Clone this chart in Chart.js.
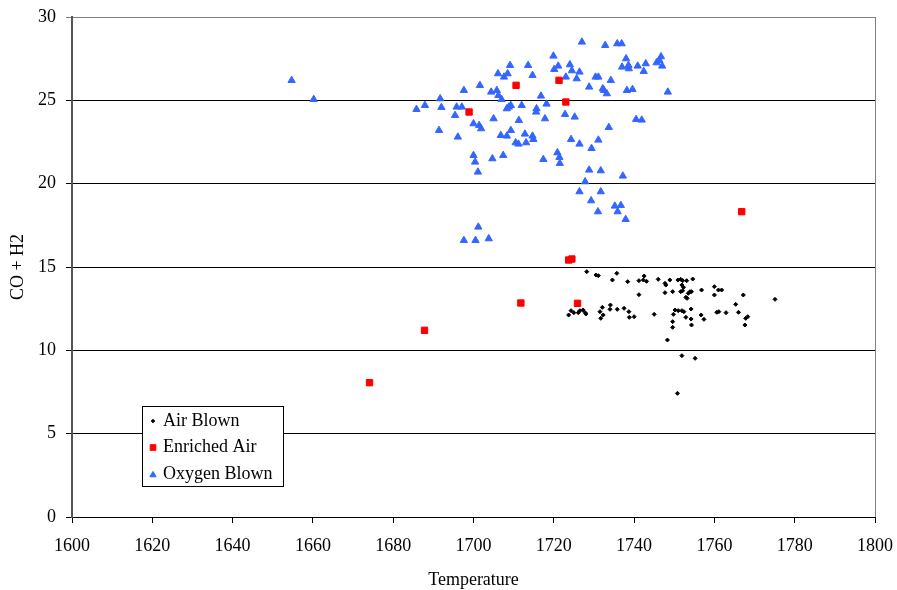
<!DOCTYPE html>
<html>
<head>
<meta charset="utf-8">
<title>CO + H2 vs Temperature</title>
<script src="https://cdn.jsdelivr.net/npm/chart.js@4.4.1/dist/chart.umd.min.js"></script>
<style>
  html, body { margin: 0; padding: 0; background: #ffffff; }
  #wrap { width: 897px; height: 590px; }
</style>
</head>
<body>
<div id="wrap"><canvas id="c" width="897" height="590"></canvas></div>
<script>
// Temperature axis range and CO + H2 axis range
const xTicks = { min: 1600, max: 1800, step: 20 };
const yTicks = { min: 0, max: 30, step: 5 };

const seriesNames = ['Air Blown', 'Enriched Air', 'Oxygen Blown'];

// Air blown gasifier runs
const airTemp = [
  1728.2, 1730.5, 1731.1, 1735.7, 1734.6, 1738.4, 1741.2, 1742.5, 1742.3, 1743.1,
  1746.0, 1741.2, 1723.7, 1724.3, 1725.0, 1726.1, 1726.5, 1727.3, 1727.8, 1728.0,
  1731.5, 1732.1, 1731.7, 1732.3, 1734.1, 1734.0, 1735.8, 1737.5, 1738.7, 1738.8,
  1740.0, 1745.0, 1747.7, 1747.9, 1748.9, 1750.9, 1751.6, 1752.1, 1753.1, 1754.6,
  1751.9, 1752.3, 1751.6, 1752.1, 1749.6, 1747.7, 1753.9, 1754.3, 1753.5, 1752.9,
  1753.2, 1756.8, 1760.0, 1761.0, 1761.8, 1760.0, 1767.2, 1775.1, 1765.3, 1750.2,
  1751.0, 1751.9, 1752.4, 1749.8, 1754.2, 1752.9, 1754.2, 1749.6, 1749.6, 1754.3,
  1756.7, 1757.4, 1760.6, 1761.1, 1762.9, 1766.0, 1767.8, 1768.3, 1767.6, 1748.3,
  1751.9, 1755.2, 1750.8
];
const airGas = [
  14.72, 14.52, 14.48, 14.62, 14.22, 14.12, 14.18, 14.46, 14.22, 14.14,
  14.26, 13.34, 12.12, 12.38, 12.26, 12.26, 12.38, 12.42, 12.26, 12.18,
  12.32, 12.58, 11.92, 12.12, 12.72, 12.46, 12.46, 12.52, 12.32, 11.98,
  12.02, 12.16, 14.02, 13.92, 14.22, 14.22, 14.26, 14.18, 14.18, 14.28,
  13.92, 13.78, 13.52, 13.58, 13.52, 13.46, 13.52, 13.52, 13.42, 13.18,
  13.12, 13.62, 13.82, 13.62, 13.62, 13.32, 13.32, 13.06, 12.76, 12.42,
  12.38, 12.38, 12.32, 12.16, 12.48, 11.98, 11.88, 11.72, 11.38, 11.52,
  12.12, 11.86, 12.28, 12.32, 12.26, 12.28, 11.92, 12.02, 11.52, 10.62,
  9.68, 9.52, 7.42
];

// Enriched air runs
const enrichedTemp = [1674.1, 1687.8, 1698.9, 1710.6, 1711.8, 1721.3, 1723.0, 1723.7, 1724.5, 1725.9, 1766.8];
const enrichedGas  = [8.06, 11.2, 24.3, 25.9, 12.84, 26.2, 24.9, 15.42, 15.48, 12.82, 18.32];

// Oxygen blown runs
const oxygenTemp = [
  1654.7, 1660.2, 1685.8, 1687.9, 1691.7, 1692.0, 1697.6, 1701.6, 1695.4, 1695.8,
  1697.1, 1691.4, 1696.1, 1700.0, 1701.4, 1701.9, 1705.0, 1700.0, 1700.4, 1701.1,
  1704.7, 1707.4, 1706.8, 1708.3, 1709.3, 1711.3, 1710.5, 1711.2, 1713.1, 1712.8,
  1708.8, 1708.3, 1709.3, 1712.0, 1707.0, 1704.4, 1705.8, 1706.2, 1706.1, 1707.6,
  1708.5, 1709.1, 1713.6, 1701.2, 1697.6, 1700.5, 1703.8, 1727.0, 1732.8, 1735.8,
  1736.9, 1719.9, 1714.7, 1720.1, 1721.1, 1723.0, 1724.0, 1724.5, 1726.4, 1725.7,
  1730.4, 1731.1, 1728.8, 1734.2, 1732.2, 1732.5, 1733.2, 1738.0, 1737.0, 1738.6,
  1738.7, 1738.2, 1739.6, 1740.9, 1742.9, 1742.4, 1745.6, 1746.7, 1747.0, 1746.3,
  1748.4, 1715.7, 1715.6, 1716.8, 1718.2, 1717.8, 1722.8, 1725.2, 1714.7, 1714.9,
  1717.4, 1720.9, 1721.4, 1721.5, 1724.3, 1726.4, 1729.4, 1731.1, 1733.7, 1740.5,
  1741.9, 1728.8, 1731.7, 1737.2, 1727.8, 1726.4, 1731.7, 1729.3, 1731.0, 1735.2,
  1736.7, 1735.9, 1737.9
];
const oxygenGas = [
  26.2, 25.06, 24.46, 24.7, 25.1, 24.58, 25.6, 25.9, 24.1, 24.6,
  24.6, 23.2, 22.8, 23.6, 23.5, 23.3, 23.9, 21.7, 21.3, 20.7,
  21.5, 21.7, 22.9, 22.86, 23.2, 23.8, 22.46, 22.38, 22.46, 22.98,
  24.6, 24.5, 24.7, 24.7, 25.06, 25.5, 25.6, 25.3, 26.6, 26.4,
  26.6, 27.1, 27.1, 17.4, 16.6, 16.6, 16.7, 28.5, 28.3, 28.4,
  28.4, 27.66, 26.5, 26.86, 27.06, 26.4, 27.14, 26.78, 26.7, 26.3,
  26.4, 26.4, 25.8, 26.2, 25.7, 25.6, 25.4, 27.5, 27.0, 27.1,
  26.9, 25.6, 25.66, 27.06, 27.2, 26.74, 27.26, 27.62, 27.06, 27.4,
  25.5, 24.5, 24.3, 25.26, 24.78, 23.9, 24.16, 24.0, 22.86, 22.66,
  21.46, 21.86, 21.58, 21.22, 22.66, 22.38, 22.12, 22.62, 23.38, 23.86,
  23.82, 20.82, 20.78, 20.46, 20.12, 19.52, 19.52, 18.98, 18.32, 18.66,
  18.7, 18.32, 17.86
];

function points(xs, ys) {
  return xs.map((x, i) => ({ x: x, y: ys[i] }));
}

const SERIF = "'Liberation Serif', 'Times New Roman', serif";

// Legend box drawn inside the plot area, bottom-left
const boxLegend = {
  id: 'boxLegend',
  afterDatasetsDraw(chart) {
    const { ctx, chartArea } = chart;
    const left = chartArea.left + 70;
    const top = chartArea.bottom - 111;
    const w = 141, h = 80;
    ctx.save();
    ctx.fillStyle = '#ffffff';
    ctx.fillRect(left, top, w, h);
    ctx.strokeStyle = '#000000';
    ctx.lineWidth = 1;
    ctx.strokeRect(left + 0.5, top + 0.5, w, h);
    ctx.font = '18px ' + SERIF;
    ctx.textBaseline = 'middle';
    ctx.fillStyle = '#000000';
    const legendSizes = [1.8, 4, 3.6];
    chart.data.datasets.forEach((ds, i) => {
      const cy = top + 15 + i * 26.5;
      ctx.fillStyle = ds.backgroundColor;
      ctx.strokeStyle = ds.borderColor;
      ctx.lineWidth = 1;
      Chart.helpers.drawPoint(ctx, { pointStyle: ds.pointStyle, radius: legendSizes[i], borderWidth: 1 }, left + 11, cy + (i === 2 ? 1 : 0));
      ctx.fillStyle = '#000000';
      ctx.fillText(ds.label, left + 21, cy);
    });
    ctx.restore();
  }
};

// Grey right-hand frame of the plot area
const plotFrame = {
  id: 'plotFrame',
  beforeDatasetsDraw(chart) {
    const { ctx, chartArea } = chart;
    ctx.save();
    ctx.strokeStyle = '#808080';
    ctx.lineWidth = 1;
    ctx.beginPath();
    ctx.moveTo(Math.round(chartArea.right) + 0.5, chartArea.top);
    ctx.lineTo(Math.round(chartArea.right) + 0.5, chartArea.bottom);
    ctx.stroke();
    ctx.restore();
  }
};

new Chart(document.getElementById('c'), {
  type: 'scatter',
  data: {
    datasets: [
      {
        label: seriesNames[0],
        data: points(airTemp, airGas),
        pointStyle: 'rectRot',
        pointRadius: 2,
        borderWidth: 1,
        backgroundColor: '#000000',
        borderColor: '#000000'
      },
      {
        label: seriesNames[1],
        data: points(enrichedTemp, enrichedGas),
        pointStyle: 'rect',
        pointRadius: 4.5,
        borderWidth: 1,
        backgroundColor: '#ff0000',
        borderColor: '#ff0000'
      },
      {
        label: seriesNames[2],
        data: points(oxygenTemp, oxygenGas),
        pointStyle: 'triangle',
        pointRadius: 4.2,
        borderWidth: 1,
        backgroundColor: '#3366ff',
        borderColor: '#3366ff'
      }
    ]
  },
  options: {
    responsive: false,
    animation: false,
    events: [],
    layout: { padding: { top: 17, right: 22, left: 0, bottom: 0 } },
    plugins: {
      legend: { display: false },
      tooltip: { enabled: false }
    },
    scales: {
      x: {
        type: 'linear',
        min: xTicks.min,
        max: xTicks.max,
        afterFit(scale) {
          scale.height = 73;
          scale.paddingLeft = 0;
          scale.paddingRight = 0;
        },
        ticks: {
          stepSize: xTicks.step,
          color: '#000000',
          padding: 12,
          maxRotation: 0,
          font: { family: SERIF, size: 18 },
          callback: v => String(v)
        },
        grid: {
          drawOnChartArea: false,
          drawTicks: true,
          tickLength: 6,
          color: '#000000'
        },
        border: { display: true, color: '#000000', width: 1 },
        title: {
          display: true,
          text: 'Temperature',
          color: '#000000',
          font: { family: SERIF, size: 18, lineHeight: 1 },
          padding: { top: 0, bottom: 1 }
        }
      },
      y: {
        min: yTicks.min,
        max: yTicks.max,
        afterFit(scale) {
          scale.width = 72;
          scale.paddingTop = 0;
          scale.paddingBottom = 0;
        },
        ticks: {
          stepSize: yTicks.step,
          color: '#000000',
          padding: 10,
          font: { family: SERIF, size: 18 }
        },
        grid: {
          drawTicks: true,
          tickLength: 6,
          lineWidth: 1,
          color: ctx => (ctx.tick && ctx.tick.value === yTicks.max) ? '#808080' : '#000000'
        },
        border: { display: true, color: '#555555', width: 2 },
        title: {
          display: true,
          text: 'CO + H2',
          color: '#000000',
          font: { family: SERIF, size: 18, lineHeight: 1 },
          padding: { top: 9, bottom: 0 }
        }
      }
    }
  },
  plugins: [plotFrame, boxLegend]
});
</script>
</body>
</html>
